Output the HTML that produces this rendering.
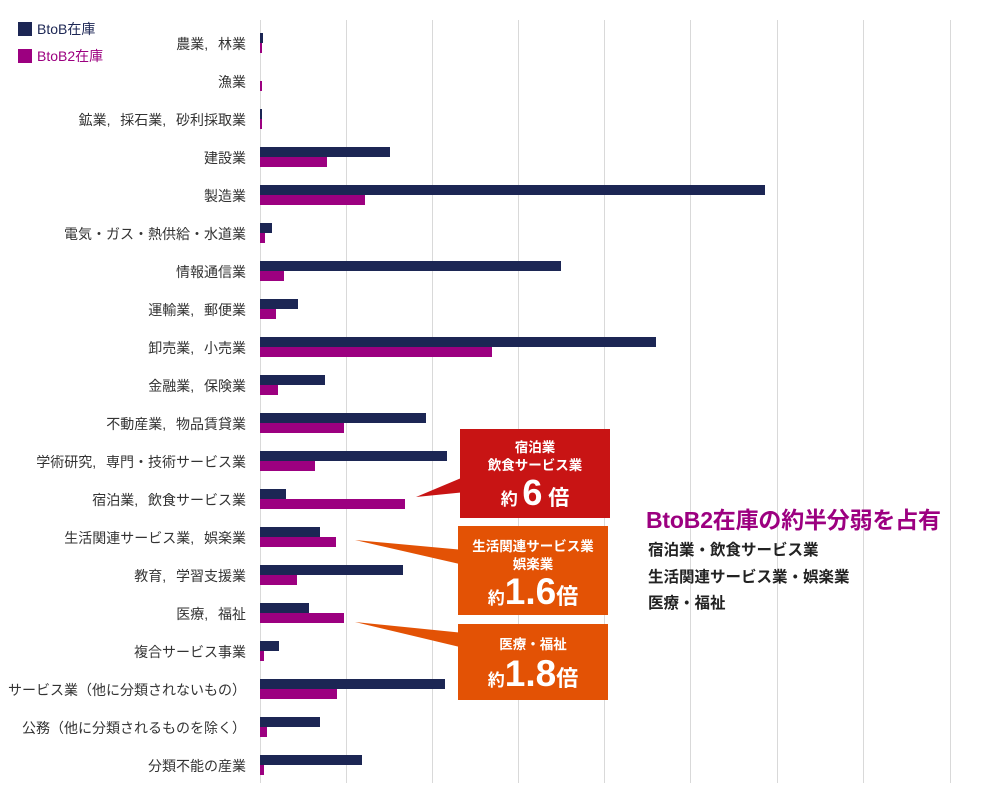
<!DOCTYPE html>
<html><head><meta charset="utf-8"><style>
body{margin:0;background:#fff;width:993px;height:810px;overflow:hidden;font-family:"Liberation Sans","Noto Sans CJK JP",sans-serif}
</style></head><body>
<svg width="993" height="810" xmlns="http://www.w3.org/2000/svg" style="position:absolute;left:0;top:0;font-family:'Liberation Sans','Noto Sans CJK JP',sans-serif">
<g stroke="#d9d9d9" stroke-width="1">
<line x1="260.5" y1="20" x2="260.5" y2="783"/><line x1="346.5" y1="20" x2="346.5" y2="783"/><line x1="432.5" y1="20" x2="432.5" y2="783"/><line x1="518.5" y1="20" x2="518.5" y2="783"/><line x1="604.5" y1="20" x2="604.5" y2="783"/><line x1="690.5" y1="20" x2="690.5" y2="783"/><line x1="777.5" y1="20" x2="777.5" y2="783"/><line x1="863.5" y1="20" x2="863.5" y2="783"/><line x1="950.5" y1="20" x2="950.5" y2="783"/>
</g>
<g id="bars"></g>
<g id="labels" font-size="14" fill="#333" text-anchor="end"></g>
<rect x="18" y="22" width="14" height="14" fill="#1c2654"/>
<text x="37" y="34" font-size="14" fill="#1c2654">BtoB在庫</text>
<rect x="18" y="49" width="14" height="14" fill="#9c0080"/>
<text x="37" y="61" font-size="14" fill="#9c0080">BtoB2在庫</text>
<polygon points="416,497 466,476 466,492" fill="#c81414"/>
<rect x="460" y="429" width="150" height="89" fill="#c81414"/>
<polygon points="355,540 464,550 464,565" fill="#e35205"/>
<rect x="458" y="526" width="150" height="89" fill="#e35205"/>
<polygon points="355,622 464,633 464,648" fill="#e35205"/>
<rect x="458" y="624" width="150" height="76" fill="#e35205"/>
<g fill="#fff" font-weight="bold" text-anchor="middle">
<text x="535" y="452" font-size="13.5">宿泊業</text>
<text x="535" y="470" font-size="13.5">飲食サービス業</text>
<text x="535" y="505"><tspan font-size="17">約 </tspan><tspan font-size="36">6</tspan><tspan font-size="21"> 倍</tspan></text>
<text x="533" y="551" font-size="13.5">生活関連サービス業</text>
<text x="533" y="569" font-size="13.5">娯楽業</text>
<text x="533" y="604"><tspan font-size="17">約</tspan><tspan font-size="37">1.6</tspan><tspan font-size="22">倍</tspan></text>
<text x="533" y="649" font-size="13.5">医療・福祉</text>
<text x="533" y="686"><tspan font-size="17">約</tspan><tspan font-size="37">1.8</tspan><tspan font-size="22">倍</tspan></text>
</g>
<text x="646" y="528" font-size="23" font-weight="bold" fill="#9c0080" textLength="295">BtoB2在庫の約半分弱を占有</text>
<g font-size="15.5" font-weight="bold" fill="#222">
<text x="648" y="555">宿泊業・飲食サービス業</text>
<text x="648" y="582">生活関連サービス業・娯楽業</text>
<text x="648" y="608">医療・福祉</text>
</g>
</svg>
<script>
var d=[["農業, 林業",263,262],["漁業",260,262],["鉱業, 採石業, 砂利採取業",262,262],["建設業",390,327],["製造業",765,365],["電気・ガス・熱供給・水道業",272,265],["情報通信業",561,284],["運輸業, 郵便業",298,276],["卸売業, 小売業",656,492],["金融業, 保険業",325,278],["不動産業, 物品賃貸業",426,344],["学術研究, 専門・技術サービス業",447,315],["宿泊業, 飲食サービス業",286,405],["生活関連サービス業, 娯楽業",320,336],["教育, 学習支援業",403,297],["医療, 福祉",309,344],["複合サービス事業",279,264],["サービス業（他に分類されないもの）",445,337],["公務（他に分類されるものを除く）",320,267],["分類不能の産業",362,264]];
var b="",l="";
d.forEach(function(r,i){var y=43+38*i;
b+='<rect x="260" y="'+(y-10)+'" width="'+(r[1]-260)+'" height="10" fill="#1c2654"/>';
b+='<rect x="260" y="'+y+'" width="'+(r[2]-260)+'" height="10" fill="#9c0080"/>';
l+='<text x="246" y="'+(y+6)+'">'+r[0].replace(/, /g,',\u2002\u2009')+'</text>';});
document.getElementById("bars").innerHTML=b;document.getElementById("labels").innerHTML=l;
</script>
</body></html>
